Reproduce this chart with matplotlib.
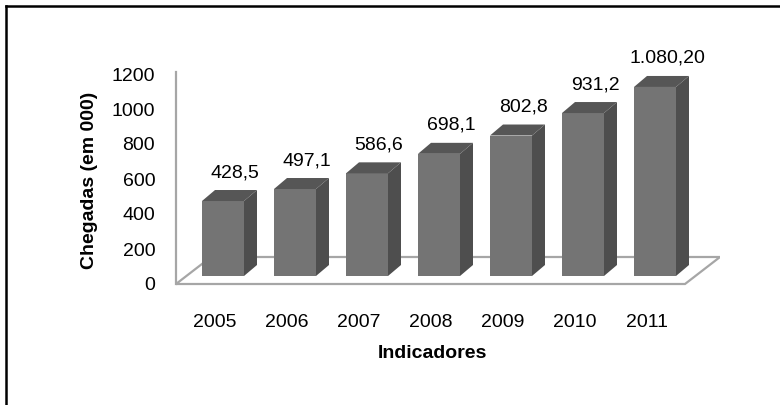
import matplotlib.pyplot as plt
from matplotlib.patches import Polygon
from matplotlib.lines import Line2D
from matplotlib.transforms import ScaledTranslation

years = ['2005', '2006', '2007', '2008', '2009', '2010', '2011']
arrivals = [428.5, 497.1, 586.6, 698.1, 802.8, 931.2, 1080.2]
value_labels = ['428,5', '497,1', '586,6', '698,1', '802,8', '931,2', '1.080,20']
y_ticks = [0, 200, 400, 600, 800, 1000, 1200]

plt.rcParams['font.family'] = ['Liberation Sans', 'DejaVu Sans']

W, H = 780, 405
fig = plt.figure(figsize=(W / 100, H / 100), dpi=100)

# plot box in pixels and the px scale of the fake 3d chart
left, right, top, bottom = 176, 720, 60, 290
step = 72.0    # px per category
k = 0.175      # px per unit of value
x0, y0 = 223, 276

ax = fig.add_axes([left / W, 1 - bottom / H, (right - left) / W, (bottom - top) / H])
ax.set_xlim((left - x0) / step, (right - x0) / step)
ax.set_ylim((y0 - bottom) / k, (y0 - top) / k)
for s in ax.spines.values():
    s.set_visible(False)
ax.tick_params(length=0, labelsize=14)
ax.tick_params(axis='y', pad=15)
ax.tick_params(axis='x', pad=17)

w = 42 / step
dx, dy = 13 / step, 11 / k
front_c, side_c, top_c = '#747474', '#4e4e4e', '#565656'
grid_c = '#a6a6a6'

# floor
yf, yb = -8 / k, 19 / k
floor_x = [ax.get_xlim()[0], (685 - x0) / step, (720 - x0) / step, (211 - x0) / step]
floor_y = [yf, yf, yb, yb]
ax.add_patch(Polygon(list(zip(floor_x, floor_y)), closed=True, fill=False,
                     edgecolor=grid_c, lw=1.6, zorder=1))
# value axis line on the front left edge
ax.plot([floor_x[0], floor_x[0]], [yf, y_ticks[-1] - 6 / k], color=grid_c, lw=1.6,
        zorder=1, clip_on=False)

for i, v in enumerate(arrivals):
    ax.bar(i, v, width=w, color=front_c, zorder=3)
    r = i + w / 2
    ax.add_patch(Polygon([(r, 0), (r + dx, dy), (r + dx, v + dy), (r, v)],
                         closed=True, facecolor=side_c, edgecolor='none', zorder=3))
    ax.add_patch(Polygon([(i - w / 2, v), (r, v), (r + dx, v + dy), (i - w / 2 + dx, v + dy)],
                         closed=True, facecolor=top_c, edgecolor='none', zorder=3))
    ax.text(i + 12 / step, v + dy + 9 / k, value_labels[i], ha='center', va='bottom',
            fontsize=14, zorder=4)

ax.set_xticks(range(len(years)))
ax.set_xticklabels(years)
ax.set_yticks(y_ticks)
ax.set_yticklabels([str(t) for t in y_ticks])
for lab in ax.get_yticklabels():
    lab.set_transform(lab.get_transform() + ScaledTranslation(0, -8 / 100, fig.dpi_scale_trans))
for lab in ax.get_xticklabels():
    lab.set_transform(lab.get_transform() + ScaledTranslation(-8 / 100, 0, fig.dpi_scale_trans))

fig.text(432 / W, 1 - 353 / H, 'Indicadores', ha='center', va='center',
         fontsize=14, fontweight='bold')
fig.text(90 / W, 1 - 180 / H, 'Chegadas (em 000)', ha='center', va='center',
         rotation=90, fontsize=14, fontweight='bold')

# outer frame (left and top only visible)
fig.add_artist(Line2D([6 / W, 6 / W], [0, 1 - 6 / H], color='black', lw=1.8))
fig.add_artist(Line2D([6 / W, 1], [1 - 6 / H, 1 - 6 / H], color='black', lw=1.8))

fig.savefig('out.png', dpi=100)
